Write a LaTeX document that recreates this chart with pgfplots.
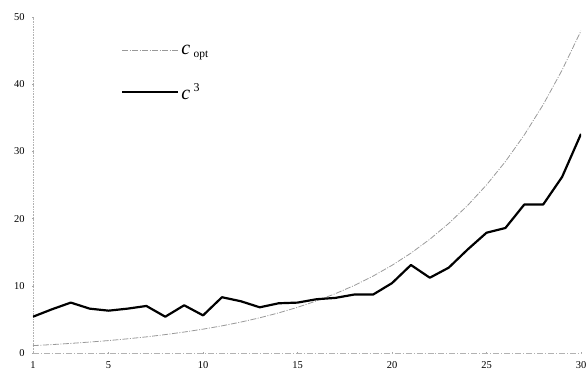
\documentclass[border=0pt]{standalone}
\usepackage{fontspec}
\setmainfont{Liberation Serif}
\usepackage{pgfplots}
\pgfplotsset{compat=1.18}
\begin{document}
\begin{tikzpicture}
\path[use as bounding box] (-33bp,-24bp) rectangle (554bp,353bp);
\begin{axis}[
  at={(0,0)}, anchor=south west,
  scale only axis, width=548bp, height=336bp,
  xmin=1, xmax=30, ymin=0, ymax=50,
  axis x line=bottom, axis y line=left,
  axis line style={gray!60, line width=0.6pt, -},
  x axis line style={dash pattern=on 6pt off 2pt on 1pt off 2pt},
  y axis line style={densely dotted},
  xtick={1,5,10,15,20,25,30}, ytick={0,10,20,30,40,50},
  major tick length=2pt, tick style={gray!70},
  tick label style={font=\fontsize{10.5}{12}\selectfont},
  /pgf/number format/assume math mode=true,
  xticklabel style={yshift=-4bp},
  yticklabel style={xshift=-4bp},
  legend style={at={(axis cs:5.5,46.4)}, anchor=north west, draw=none, fill=none,
    font=\fontsize{20}{22}\selectfont, row sep=23bp,
    legend cell align=left},
  legend image code/.code={\draw[#1] (0bp,0bp) -- (56bp,0bp);},
]
\addplot[gray!80, line width=0.8pt, dash pattern=on 6pt off 1.5pt on 1pt off 1.5pt] coordinates {
(1,1.10) (2,1.25) (3,1.43) (4,1.63) (5,1.85) (6,2.11) (7,2.40) (8,2.74) (9,3.12) (10,3.55)
(11,4.04) (12,4.60) (13,5.24) (14,5.97) (15,6.80) (16,7.75) (17,8.83) (18,10.05) (19,11.45) (20,13.05)
(21,14.86) (22,16.93) (23,19.28) (24,21.96) (25,25.01) (26,28.49) (27,32.45) (28,36.96) (29,42.10) (30,47.95)
};
\addlegendentry{\textit{c}\,\raisebox{-0.35ex}{\fontsize{11.5}{12}\selectfont opt}}
\addplot[black, line width=2.2pt, line join=round] coordinates {
(1,5.4) (2,6.5) (3,7.5) (4,6.6) (5,6.3) (6,6.6) (7,7.0) (8,5.4) (9,7.1) (10,5.6)
(11,8.3) (12,7.7) (13,6.8) (14,7.4) (15,7.5) (16,8.0) (17,8.2) (18,8.7) (19,8.7) (20,10.4)
(21,13.1) (22,11.2) (23,12.7) (24,15.4) (25,17.9) (26,18.6) (27,22.1) (28,22.1) (29,26.2) (30,32.6)
};
\addlegendentry{\textit{c}\,\raisebox{0.9ex}{\fontsize{12}{13}\selectfont 3}}
\end{axis}
\end{tikzpicture}
\end{document}
